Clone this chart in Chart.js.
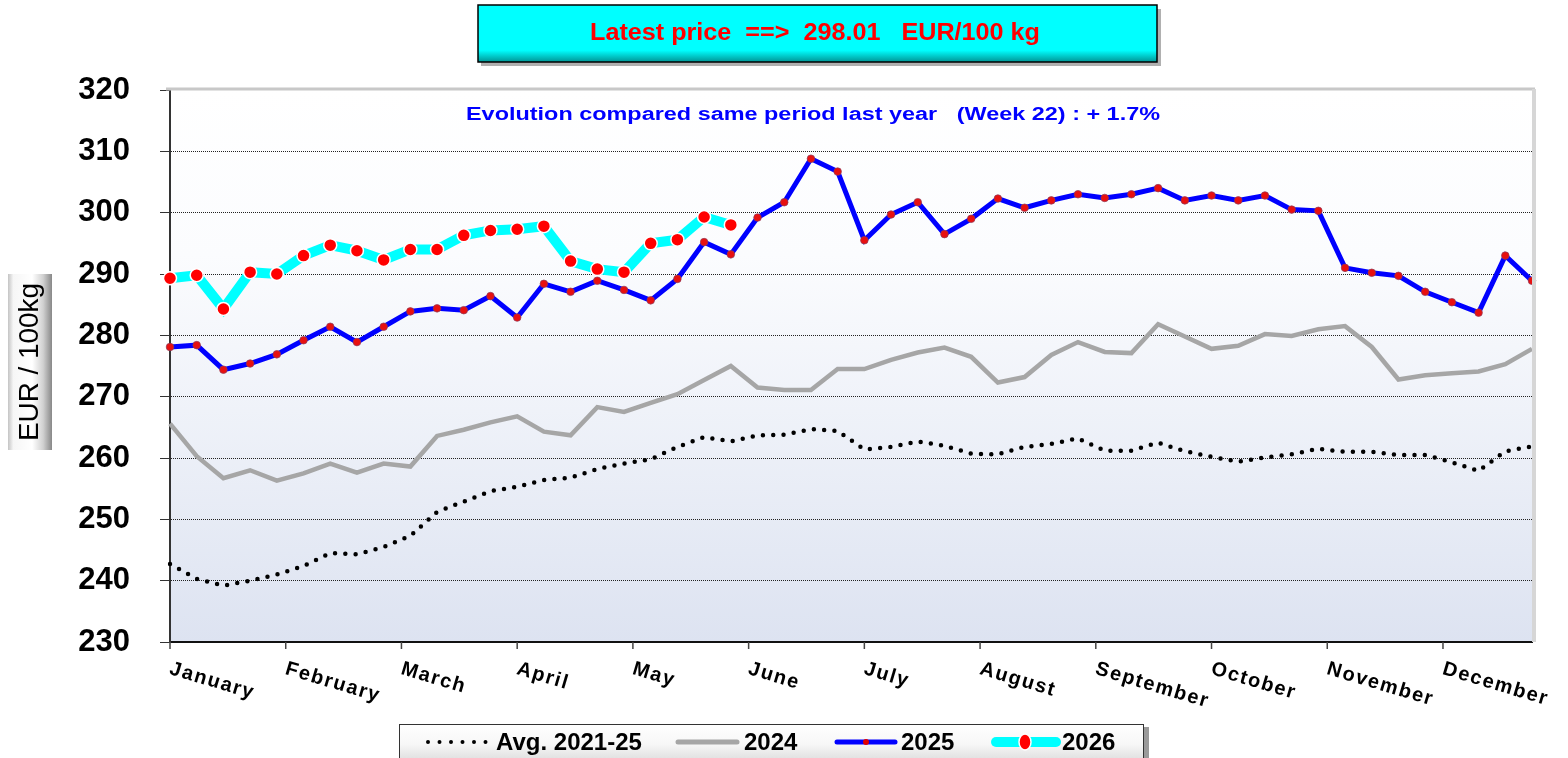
<!DOCTYPE html>
<html>
<head>
<meta charset="utf-8">
<script src="https://cdn.jsdelivr.net/npm/chart.js@4.4.1/dist/chart.umd.min.js"></script>
<style>
  body { margin: 0; background: #fff; }
  canvas { display: block; }
</style>
</head>
<body>
<canvas id="priceChart" width="1568" height="758"></canvas>
<script>
// week numbers (x categories)
const weeks = [1,2,3,4,5,6,7,8,9,10,11,12,13,14,15,16,17,18,19,20,21,22,23,24,25,26,
  27,28,29,30,31,32,33,34,35,36,37,38,39,40,41,42,43,44,45,46,47,48,49,50,51,52];
const months = ['January','February','March','April','May','June','July','August',
  'September','October','November','December'];
const yTicks = [230, 240, 250, 260, 270, 280, 290, 300, 310, 320];

// EUR / 100kg
const avg2125 = [242.7, 240.3, 239.2, 240.0, 241.0, 242.4, 244.5, 244.3, 245.5, 247.3,
  251.2, 252.9, 254.6, 255.3, 256.4, 256.8, 258.2, 259.1, 259.8, 261.8,
  263.4, 262.7, 263.7, 263.8, 264.7, 264.4, 261.4, 261.8, 262.7, 262.0,
  260.7, 260.6, 261.8, 262.3, 263.2, 261.2, 261.2, 262.5, 261.1, 260.2,
  259.4, 260.1, 260.6, 261.5, 261.0, 261.0, 260.5, 260.5, 259.3, 257.9,
  261.1, 261.9];
const y2024 = [265.6, 260.3, 256.7, 258.0, 256.3, 257.5, 259.1, 257.6, 259.1, 258.6,
  263.6, 264.6, 265.8, 266.8, 264.3, 263.7, 268.3, 267.5, 269.0, 270.4,
  272.7, 275.0, 271.5, 271.1, 271.1, 274.5, 274.5, 276.0, 277.2, 278.0,
  276.5, 272.3, 273.2, 276.8, 278.9, 277.3, 277.1, 281.8, 279.8, 277.8,
  278.3, 280.2, 279.9, 281.0, 281.5, 278.1, 272.8, 273.5, 273.8, 274.1,
  275.3, 277.8];
const y2025 = [278.1, 278.4, 274.4, 275.4, 276.9, 279.2, 281.4, 278.9, 281.4, 283.9,
  284.4, 284.1, 286.4, 282.9, 288.4, 287.1, 288.9, 287.4, 285.7, 289.2,
  295.2, 293.2, 299.2, 301.7, 308.8, 306.7, 295.5, 299.7, 301.7, 296.5,
  299.0, 302.3, 300.8, 302.0, 303.0, 302.4, 303.0, 304.0, 302.0, 302.8,
  302.0, 302.8, 300.5, 300.3, 291.0, 290.2, 289.7, 287.1, 285.4, 283.7,
  293.0, 288.9];
const y2026 = [289.3, 289.8, 284.3, 290.3, 290.0, 293.0, 294.7, 293.8, 292.3, 294.0,
  294.0, 296.3, 297.1, 297.3, 297.8, 292.1, 290.8, 290.3, 295.0, 295.6,
  299.3, 298.0];

const latestPrice = '298.01';
const evolutionText = 'Evolution compared same period last year   (Week 22) : + 1.7%';

const FONT = "'Liberation Sans', Arial, sans-serif";

// draw text squeezed/stretched to a given width
function fitText(ctx, text, x, y, w) {
  const m = ctx.measureText(text).width;
  ctx.save();
  ctx.translate(x, y);
  ctx.scale(w / m, 1);
  ctx.textAlign = 'center';
  ctx.fillText(text, 0, 0);
  ctx.restore();
}

const decorPlugin = {
  id: 'decor',
  beforeDraw(chart) {
    const ctx = chart.ctx;
    const a = chart.chartArea;

    // plot background
    const g = ctx.createLinearGradient(0, a.top, 0, a.bottom);
    g.addColorStop(0, '#ffffff');
    g.addColorStop(0.3, '#fbfcfe');
    g.addColorStop(1, '#dde3f1');
    ctx.fillStyle = g;
    ctx.fillRect(a.left, a.top, a.right - a.left, a.bottom - a.top);

    // header box
    ctx.save();
    ctx.fillStyle = '#b0b0b0';
    ctx.fillRect(481, 9, 680, 57);
    const hg = ctx.createLinearGradient(0, 5, 0, 63);
    hg.addColorStop(0, '#00ffff');
    hg.addColorStop(0.78, '#00ffff');
    hg.addColorStop(1, '#008c8c');
    ctx.fillStyle = hg;
    ctx.fillRect(478, 5, 679, 57);
    ctx.strokeStyle = '#000';
    ctx.lineWidth = 1.5;
    ctx.strokeRect(478, 5, 679, 57);
    ctx.fillStyle = '#ff0000';
    ctx.font = "bold 23px 'Liberation Sans Narrow', 'Liberation Sans', sans-serif";
    ctx.textBaseline = 'middle';
    fitText(ctx, 'Latest price  ==>  ' + latestPrice + '   EUR/100 kg', 815, 34, 450);
    ctx.restore();

    // y axis title box
    ctx.save();
    const yg = ctx.createLinearGradient(8, 0, 52, 0);
    yg.addColorStop(0, '#c4c4c4');
    yg.addColorStop(0.12, '#f6f6f6');
    yg.addColorStop(0.55, '#ffffff');
    yg.addColorStop(0.8, '#d0d0d0');
    yg.addColorStop(1, '#888888');
    ctx.fillStyle = yg;
    ctx.fillRect(8, 274, 44, 176);
    ctx.translate(31, 362);
    ctx.rotate(-Math.PI / 2);
    ctx.fillStyle = '#000';
    ctx.font = '27px ' + FONT;
    ctx.textBaseline = 'middle';
    fitText(ctx, 'EUR / 100kg', 0, 0, 158);
    ctx.restore();
  },
  afterDraw(chart) {
    const ctx = chart.ctx;
    const a = chart.chartArea;
    const xs = chart.scales.x;

    // plot frame (top / right)
    ctx.save();
    ctx.strokeStyle = '#c8c8c8';
    ctx.lineWidth = 3;
    ctx.beginPath();
    ctx.moveTo(a.left - 4, a.top - 1);
    ctx.lineTo(a.right + 3, a.top - 1);
    ctx.stroke();
    ctx.strokeStyle = '#d6d6d6';
    ctx.lineWidth = 4;
    ctx.beginPath();
    ctx.moveTo(a.right + 2, a.top - 1);
    ctx.lineTo(a.right + 2, a.bottom);
    ctx.stroke();
    ctx.restore();

    // evolution text
    ctx.save();
    ctx.fillStyle = '#0000ff';
    ctx.font = 'bold 18px ' + FONT;
    ctx.textBaseline = 'middle';
    fitText(ctx, evolutionText, 813, 115, 694);
    ctx.restore();

    // month ticks and labels
    ctx.save();
    ctx.strokeStyle = '#444';
    ctx.lineWidth = 1.5;
    ctx.fillStyle = '#000';
    ctx.font = 'bold 20px ' + FONT;
    ctx.letterSpacing = '1.6px';
    ctx.textBaseline = 'top';
    ctx.textAlign = 'left';
    months.forEach((m, j) => {
      const x = xs.getPixelForValue(j * 52 / 12);
      ctx.beginPath();
      ctx.moveTo(x, a.bottom);
      ctx.lineTo(x, a.bottom + 7);
      ctx.stroke();
      ctx.save();
      ctx.translate(x + 3, a.bottom + 17);
      ctx.rotate(0.29);
      ctx.fillText(m, 0, 0);
      ctx.restore();
    });
    ctx.restore();

    // legend box
    ctx.save();
    ctx.fillStyle = '#9a9a9a';
    ctx.fillRect(403, 727, 746, 40);
    const lg = ctx.createLinearGradient(0, 724, 0, 764);
    lg.addColorStop(0, '#ffffff');
    lg.addColorStop(0.5, '#f7f7f7');
    lg.addColorStop(1, '#dadada');
    ctx.fillStyle = lg;
    ctx.fillRect(399, 724, 744, 40);
    ctx.strokeStyle = '#333';
    ctx.lineWidth = 1;
    ctx.strokeRect(399.5, 724.5, 744, 40);

    const ly = 742;
    ctx.lineCap = 'round';
    // avg dotted
    ctx.strokeStyle = '#000';
    ctx.lineWidth = 4;
    ctx.setLineDash([0, 11.5]);
    ctx.beginPath(); ctx.moveTo(428, ly); ctx.lineTo(486, ly); ctx.stroke();
    ctx.setLineDash([]);
    // 2024
    ctx.strokeStyle = '#a6a6a6';
    ctx.lineWidth = 5;
    ctx.beginPath(); ctx.moveTo(678, ly); ctx.lineTo(737, ly); ctx.stroke();
    // 2025
    ctx.strokeStyle = '#0000ff';
    ctx.beginPath(); ctx.moveTo(837, ly); ctx.lineTo(895, ly); ctx.stroke();
    ctx.fillStyle = '#e00000';
    ctx.beginPath(); ctx.arc(866, ly, 3, 0, Math.PI * 2); ctx.fill();
    // 2026
    ctx.strokeStyle = '#00ffff';
    ctx.lineWidth = 10;
    ctx.beginPath(); ctx.moveTo(996, ly); ctx.lineTo(1056, ly); ctx.stroke();
    ctx.fillStyle = '#ff0000';
    ctx.strokeStyle = '#fff';
    ctx.lineWidth = 1.5;
    ctx.beginPath(); ctx.ellipse(1025, ly, 6, 8, 0, 0, Math.PI * 2); ctx.fill(); ctx.stroke();

    ctx.fillStyle = '#000';
    ctx.font = 'bold 24px ' + FONT;
    ctx.textBaseline = 'middle';
    ctx.textAlign = 'left';
    ctx.fillText('Avg. 2021-25', 496, ly + 1);
    ctx.fillText('2024', 744, ly + 1);
    ctx.fillText('2025', 901, ly + 1);
    ctx.fillText('2026', 1062, ly + 1);
    ctx.restore();
  }
};

new Chart(document.getElementById('priceChart'), {
  type: 'line',
  data: {
    labels: weeks,
    datasets: [
      {
        label: '2026',
        data: y2026,
        borderColor: '#00ffff',
        borderWidth: 10,
        pointRadius: 6.5,
        pointBackgroundColor: '#ff0000',
        pointBorderColor: '#ffffff',
        pointBorderWidth: 1.5,
        clip: false
      },
      {
        label: '2025',
        data: y2025,
        borderColor: '#0000ff',
        borderWidth: 5,
        pointRadius: 3.8,
        pointBackgroundColor: '#e81010',
        pointBorderColor: 'rgba(140,60,90,0.7)',
        pointBorderWidth: 1,
        clip: false
      },
      {
        label: '2024',
        data: y2024,
        borderColor: '#a6a6a6',
        borderWidth: 4.5,
        pointRadius: 0
      },
      {
        label: 'Avg. 2021-25',
        data: avg2125,
        borderColor: '#000000',
        borderWidth: 4.5,
        borderDash: [0, 10.3],
        borderCapStyle: 'round',
        pointRadius: 0
      }
    ]
  },
  options: {
    responsive: false,
    animation: false,
    events: [],
    layout: { padding: { left: 0, right: 36, top: 90, bottom: 0 } },
    plugins: {
      legend: { display: false },
      tooltip: { enabled: false }
    },
    scales: {
      x: {
        type: 'category',
        offset: false,
        ticks: { display: false },
        grid: { display: false },
        border: { display: true, color: '#111', width: 2 },
        afterFit: (scale) => { scale.height = 116; }
      },
      y: {
        min: 230,
        max: 320,
        afterBuildTicks: (scale) => { scale.ticks = yTicks.map(v => ({ value: v })); },
        ticks: {
          color: '#000',
          padding: 30,
          font: { family: FONT, size: 31, weight: 'bold' }
        },
        grid: {
          color: (c) => (c.tick && (c.tick.value === 320 || c.tick.value === 230)) ? 'rgba(0,0,0,0)' : '#222',
          lineWidth: 1,
          tickLength: 10,
          tickColor: '#333'
        },
        border: { display: true, color: '#333', width: 2, dash: [1, 1] },
        afterFit: (scale) => { scale.width = 170; }
      }
    }
  },
  plugins: [decorPlugin]
});
</script>
</body>
</html>
